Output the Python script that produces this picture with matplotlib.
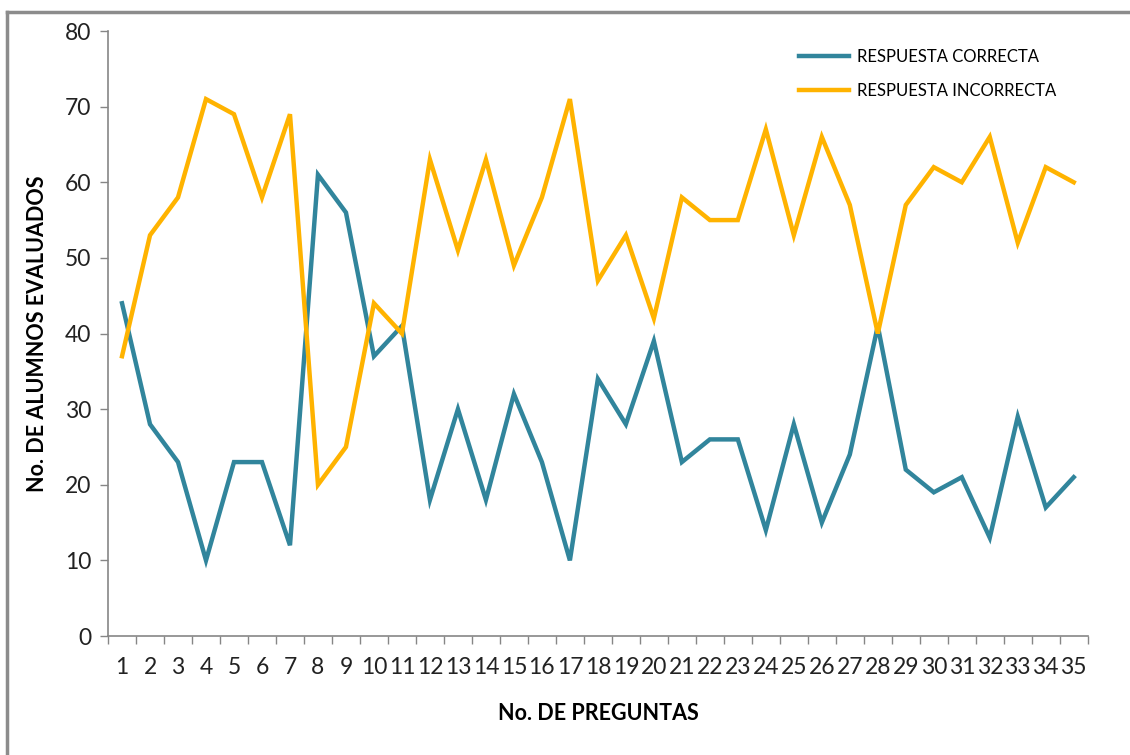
import matplotlib
matplotlib.use("Agg")
from matplotlib import pyplot as plt
from matplotlib.lines import Line2D

plt.rcParams['font.family'] = ['Lato', 'DejaVu Sans']

preguntas = list(range(1, 36))
correcta = [44, 28, 23, 10, 23, 23, 12, 61, 56, 37, 41, 18, 30, 18, 32, 23, 10, 34,
            28, 39, 23, 26, 26, 14, 28, 15, 24, 41, 22, 19, 21, 13, 29, 17, 21]
incorrecta = [37, 53, 58, 71, 69, 58, 69, 20, 25, 44, 40, 63, 51, 63, 49, 58, 71, 47,
              53, 42, 58, 55, 55, 67, 53, 66, 57, 40, 57, 62, 60, 66, 52, 62, 60]
etiquetas = ["RESPUESTA CORRECTA", "RESPUESTA INCORRECTA"]

teal = '#31859C'
gold = '#FFB300'
grey = '#868686'

fig = plt.figure(figsize=(11.3, 7.55), dpi=100)
ax = fig.add_axes([0.0956, 0.1576, 0.867, 0.8013])

ax.plot(preguntas, correcta, color=teal, lw=3.2, solid_joinstyle='miter', label=etiquetas[0])
ax.plot(preguntas, incorrecta, color=gold, lw=3.2, solid_joinstyle='miter', label=etiquetas[1])

ax.set_xlim(0.5, 35.5)
ax.set_ylim(0, 80)
ax.set_yticks(range(0, 81, 10))
ax.set_xticks(preguntas)
ax.set_xticklabels([str(p) for p in preguntas])
ax.set_xticks([p + 0.5 for p in range(0, 36)], minor=True)
ax.tick_params(axis='x', which='major', length=0, pad=15, labelsize=16.5, colors='#222222')
ax.tick_params(axis='x', which='minor', length=6, width=1, color=grey, direction='out')
ax.tick_params(axis='y', length=6, width=1, color=grey, direction='out', pad=6,
               labelsize=16.5, labelcolor='#222222')

for s in ['top', 'right']:
    ax.spines[s].set_visible(False)
for s in ['left', 'bottom']:
    ax.spines[s].set_color(grey)
    ax.spines[s].set_linewidth(1.2)

ax.set_xlabel("No. DE PREGUNTAS", fontsize=15.5, fontweight='bold', labelpad=18)
ax.set_ylabel("No. DE ALUMNOS EVALUADOS", fontsize=15.5, fontweight='bold', labelpad=12)

ax.legend(loc='upper left', bbox_to_anchor=(0.69, 0.995), frameon=False, fontsize=12,
          handlelength=3.0, handletextpad=0.45, labelspacing=1.05)

# outer chart border (only left and top visible in the reference)
fig.add_artist(Line2D([0.0065, 0.0065], [0, 0.984], color='#8c8c8c', lw=2.5,
                      transform=fig.transFigure))
fig.add_artist(Line2D([0.0065, 1.0], [0.984, 0.984], color='#8c8c8c', lw=2.5,
                      transform=fig.transFigure))

fig.savefig("out.png", dpi=100, facecolor='white')
